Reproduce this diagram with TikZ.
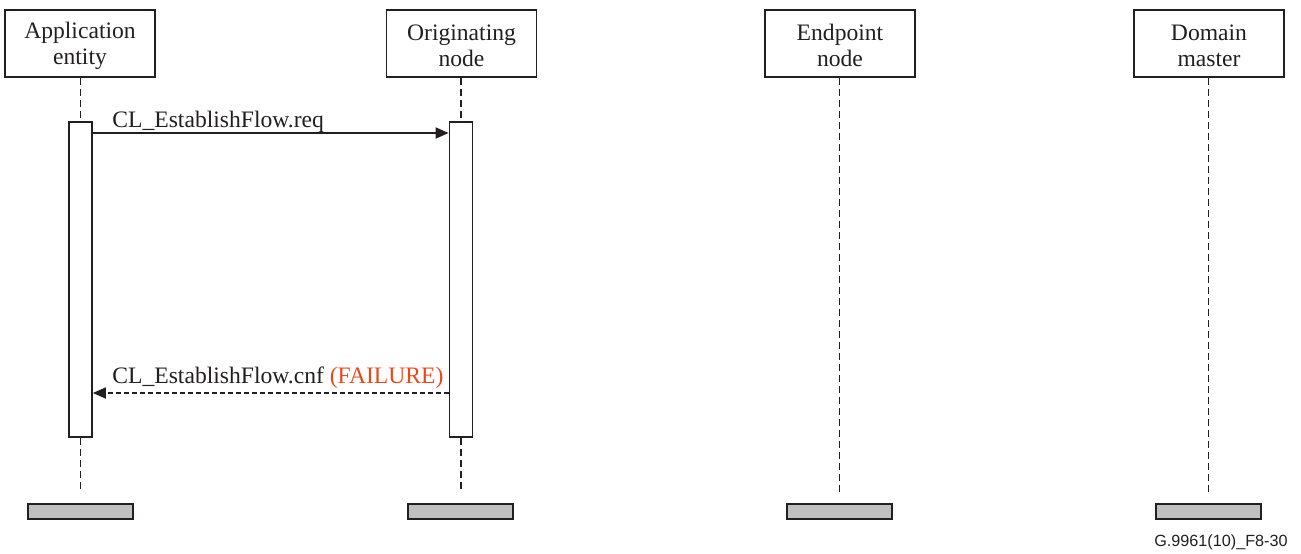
\documentclass[tikz,border=0pt]{standalone}
\usepackage{fontspec}
\setmainfont{Liberation Serif}
\newfontfamily\figfont{Liberation Sans}
\usetikzlibrary{arrows.meta, positioning}
\definecolor{ink}{RGB}{35,31,32}
\definecolor{failred}{RGB}{232,72,28}
\definecolor{bargrey}{RGB}{192,192,192}
\tikzset{
  head/.style={draw=ink, line width=0.85pt, minimum width=75pt, minimum height=33.5pt,
    inner sep=0pt},
  headtext/.style={align=center, inner sep=0pt, yshift=-1pt,
    font=\fontsize{11.8}{13}\selectfont, text=ink},
  act/.style={draw=ink, fill=white, line width=0.85pt, minimum width=11.5pt,
    minimum height=157.5pt, inner sep=0pt},
  stopbar/.style={draw=ink, fill=bargrey, line width=0.85pt, minimum width=52.5pt,
    minimum height=7.5pt, inner sep=0pt},
  life/.style={draw=ink, line width=0.95pt, dash pattern=on 3.5pt off 2pt},
  msg/.style={draw=ink, line width=0.9pt, -{Triangle[length=6.5pt,width=5.5pt]}},
  reply/.style={msg, dash pattern=on 2.5pt off 1.5pt},
  lbl/.style={font=\fontsize{11.8}{13}\selectfont, text=ink, inner sep=0pt}
}
\begin{document}
\begin{tikzpicture}[x=0.5pt, y=-0.5pt]
  \useasboundingbox (0,0) rectangle (1301,553);
  % lifeline heads
  \node[head, label={[headtext]center:Application\\entity}] (ae) at (80,43.5) {};
  \node[head, label={[headtext]center:Originating\\node}] (on) at (461.5,43.5) {};
  \node[head, label={[headtext]center:Endpoint\\node}] (en) at (840,43.5) {};
  \node[head, label={[headtext]center:Domain\\master}] (dm) at (1209,43.5) {};
  % activations and ends
  \node[act] (aeAct) at (80.5,279.5) {};
  \node[act] (onAct) at (461,279.5) {};
  \node[stopbar] (aeEnd) at (80.5,511.5) {};
  \node[stopbar] (onEnd) at (460.5,511.5) {};
  \node[stopbar] (enEnd) at (839.5,511.5) {};
  \node[stopbar] (dmEnd) at (1208.5,511.5) {};
  \coordinate (aeStop) at (80.5,492);
  \coordinate (onStop) at (461,492);
  \coordinate (enStop) at (839.5,492);
  \coordinate (dmStop) at (1208.5,492);
  % lifelines
  \draw[life] (ae.south -| aeAct.north) -- (aeAct.north);
  \draw[life] (aeAct.south) -- (aeStop);
  \draw[life] (on.south -| onAct.north) -- (onAct.north);
  \draw[life] (onAct.south) -- (onStop);
  \draw[life] (en.south -| enStop) -- (enStop);
  \draw[life] (dm.south -| dmStop) -- (dmStop);
  % messages
  \coordinate (reqY) at (0,133);
  \coordinate (cnfY) at (0,393);
  \draw[msg] (aeAct.east |- reqY) -- (onAct.west |- reqY);
  \node[lbl, anchor=base west] (reqLbl) at (112,127) {CL\_EstablishFlow.req};
  \draw[reply] (onAct.west |- cnfY) -- (aeAct.east |- cnfY);
  \node[lbl, anchor=base west] (cnfLbl) at (112,383) {CL\_EstablishFlow.cnf \textcolor{failred}{(FAILURE)}};
  \node[font=\figfont\fontsize{8.1}{9}\selectfont, text=ink, anchor=base east, inner sep=0pt]
    (figId) at (1288,546) {G.9961(10)\_F8-30};
\end{tikzpicture}
\end{document}
